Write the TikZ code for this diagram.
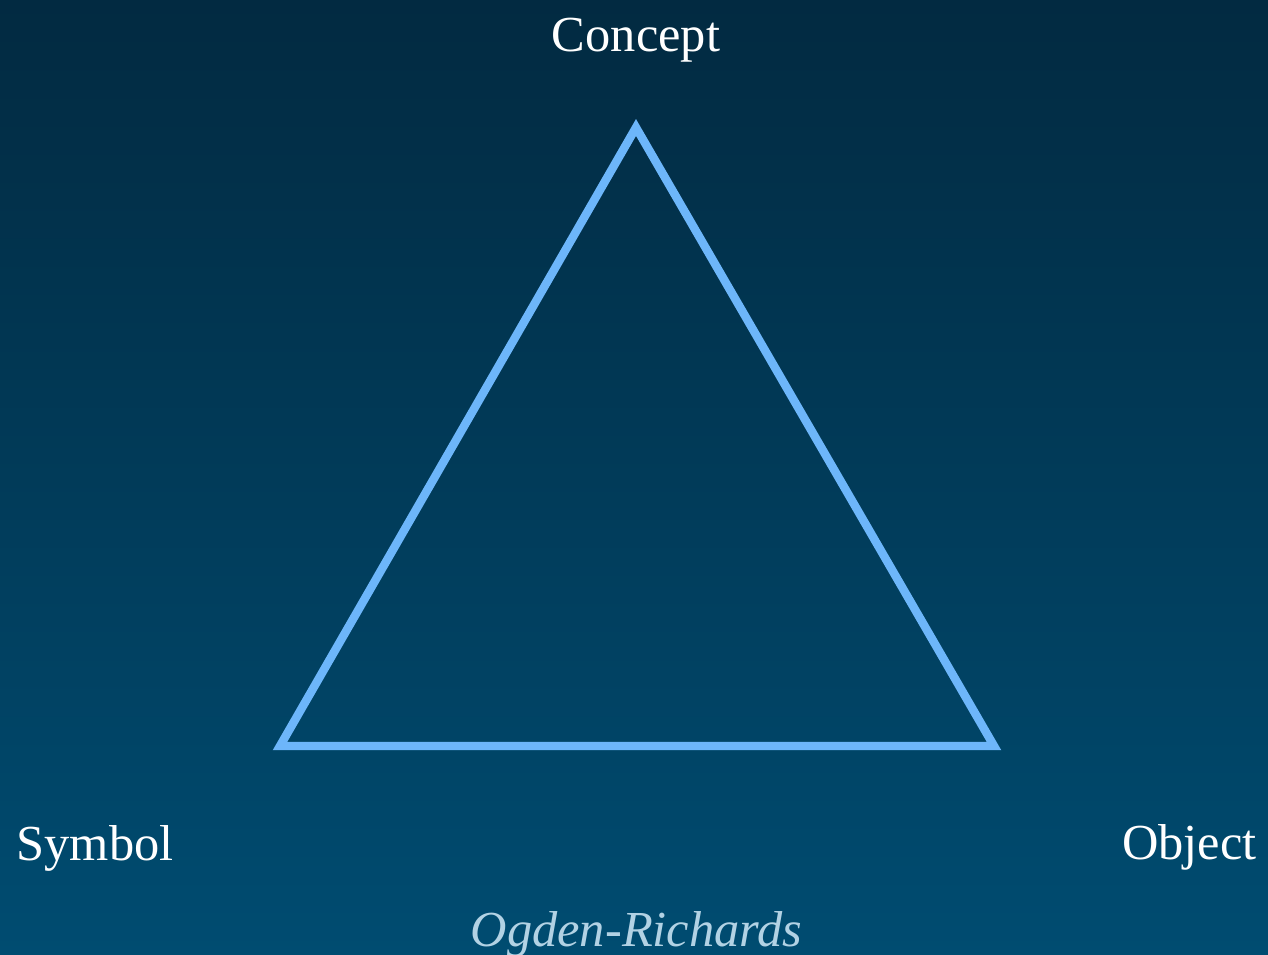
\documentclass[tikz,border=0pt]{standalone}
\usepackage{fontspec}
\setmainfont{Liberation Serif}
\usepackage{xcolor}
\usepackage{tikz}
\definecolor{ORTop}{HTML}{022A41}
\definecolor{ORBottom}{HTML}{004C71}
\definecolor{ORLine}{HTML}{6DB6FA}
\definecolor{ORNote}{HTML}{B2D2E4}
\tikzset{
  vertexlabel/.style={anchor=base,text=white,font=\fontsize{28.7}{34}\selectfont,inner sep=0pt},
}
\begin{document}
\begin{tikzpicture}[x=1cm,y=1cm]
\path[use as bounding box] (0,0) rectangle (25.36,19.10);
\shade[top color=ORTop,bottom color=ORBottom] (0,0) rectangle (25.36,19.10);
\coordinate (apex) at (12.72,16.55);
\coordinate (left) at (5.60,4.18);
\coordinate (right) at (19.88,4.18);
\draw[ORLine,line width=4.8pt,line join=miter] (apex) -- (right) -- (left) -- cycle;
\node[vertexlabel] (concept) at (12.72,18.06) {Concept};
\node[vertexlabel] (symbol) at (1.90,1.88) {Symbol};
\node[vertexlabel] (object) at (23.79,1.90) {Object};
\node[vertexlabel,text=ORNote,font=\fontsize{28.7}{34}\selectfont\itshape] (caption) at (12.73,0.18) {Ogden-Richards};
\end{tikzpicture}
\end{document}
